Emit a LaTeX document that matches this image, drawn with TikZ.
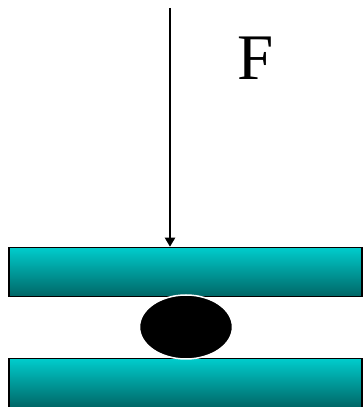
\documentclass[tikz,border=0pt]{standalone}
\usepackage{fontspec}
\setmainfont{Liberation Serif}
\usetikzlibrary{arrows.meta,shapes.geometric}
\definecolor{PlateTop}{HTML}{00CCCC}
\definecolor{PlateBot}{HTML}{006666}

\tikzset{
  plate/.style={draw=black,line width=1.5pt,rectangle,top color=PlateTop,bottom color=PlateBot,
    minimum width=353pt,minimum height=49pt,inner sep=0pt},
  ball/.style={ellipse,fill=black,draw=white,line width=1.5pt,minimum width=93pt,minimum height=64pt,inner sep=0pt},
}

\begin{document}
\begin{tikzpicture}[x=1pt,y=1pt]
  \useasboundingbox (0,0) rectangle (364,407);
  \node[plate] (upper) at (185.5,135) {};
  \node[plate] (lower) at (185.5,24) {};
  \node[ball] (ball) at (186,80) {};
  \coordinate (top) at (170,399);
  \draw[line width=2pt,-{Triangle[length=9pt,width=10pt]}] (top) -- (upper.north -| top);
  \node[anchor=base,font=\fontsize{65}{65}\selectfont] (force) at (255.5,327) {F};
\end{tikzpicture}
\end{document}
